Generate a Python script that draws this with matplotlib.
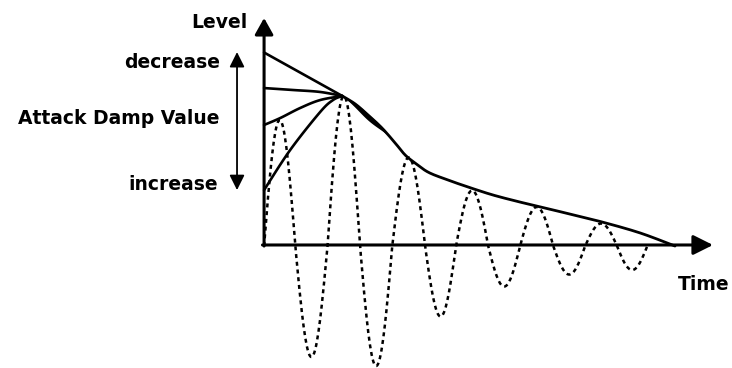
import matplotlib
matplotlib.use('Agg')
import matplotlib.pyplot as plt
import numpy as np

# oscillation: zero crossings (time in half periods) and the peak of each lobe
zero_t = [0, 0.97, 1.97, 2.98, 3.98, 5.0, 5.96, 6.96, 7.95, 8.98, 9.97, 10.96, 11.9]
lobe_peak = [0.84, -0.74, 1.0, -0.80, 0.59, -0.47, 0.37, -0.27, 0.26, -0.19, 0.15, -0.16]

# decay envelope after the attack peak
decay_t = [2.43, 2.83, 3.23, 3.66, 4.07, 4.38, 4.69, 5.09, 5.62, 6.34, 7.11,
           7.95, 8.73, 9.50, 10.50, 11.68, 12.76]
decay_lv = [1.0, 0.947, 0.873, 0.787, 0.687, 0.607, 0.553, 0.493, 0.447, 0.393, 0.34,
            0.293, 0.253, 0.213, 0.16, 0.087, 0.0]

# attack curves for different Attack Damp Values, all ending at the peak
attack_t = [
    [0, 2.43],
    [0, 0.90, 1.74, 2.43],
    [0, 0.50, 1.12, 1.74, 2.43],
    [0, 0.81, 1.74, 2.14, 2.43],
]
attack_lv = [
    [1.29, 1.0],
    [1.053, 1.04, 1.027, 1.0],
    [0.807, 0.853, 0.92, 0.973, 1.0],
    [0.373, 0.64, 0.893, 0.973, 1.0],
]


def smooth(xs, ys, n=16):
    # Catmull-Rom curve through the given points
    p = np.column_stack([xs, ys]).astype(float)
    p = np.vstack([p[0], p, p[-1]])
    u = np.linspace(0, 1, n, endpoint=False)[:, None]
    out = []
    for i in range(1, len(p) - 2):
        p0, p1, p2, p3 = p[i - 1], p[i], p[i + 1], p[i + 2]
        out.append(0.5 * (2 * p1 + (p2 - p0) * u
                          + (2 * p0 - 5 * p1 + 4 * p2 - p3) * u ** 2
                          + (3 * p1 - p0 - 3 * p2 + p3) * u ** 3))
    out.append(p[-2][None])
    c = np.vstack(out)
    return c[:, 0], c[:, 1]


fig = plt.figure(figsize=(7.32, 3.68), dpi=100)
ax = fig.add_axes([0, 0, 1, 1])
ax.set_xlim(-8.2, 14.53)
ax.set_ylim(-0.813, 1.64)
ax.axis('off')

# dashed waveform, one half-sine lobe per pair of zero crossings
s = np.linspace(0, 1, 40)
wave_t, wave_y = [], []
for i, a in enumerate(lobe_peak):
    wave_t.extend(zero_t[i] + (zero_t[i + 1] - zero_t[i]) * s)
    wave_y.extend(a * np.sin(np.pi * s))
ax.plot(wave_t, wave_y, color='k', lw=1.8, linestyle=(0, (1.6, 1.5)))

for tt, lv in zip(attack_t, attack_lv):
    ax.plot(*smooth(tt, lv), color='k', lw=1.9, solid_capstyle='round')
dt, dl = smooth(decay_t, decay_lv)
ax.plot(dt, dl, color='k', lw=2.0, solid_capstyle='round')
# the attack curves run together just after the peak, thickening the line
merge = (dt > 2.5) & (dt < 3.9)
w = np.sin(np.pi * (dt[merge] - 2.5) / 1.4)
ax.fill_between(dt[merge], dl[merge] + 0.008 * w, dl[merge] - 0.035 * w,
                color='k', lw=0)

# axes with arrow heads
ax.annotate('', xy=(0, 1.52), xytext=(0, 0),
            arrowprops=dict(arrowstyle='-|>,head_length=0.5,head_width=0.28',
                            lw=2.2, color='k', mutation_scale=20, shrinkA=0, shrinkB=0))
ax.annotate('', xy=(13.94, 0.007), xytext=(-0.05, 0.007),
            arrowprops=dict(arrowstyle='-|>,head_length=0.6,head_width=0.3',
                            lw=2.2, color='k', mutation_scale=20, shrinkA=0, shrinkB=0))

# attack damp value range
ax.annotate('', xy=(-0.84, 1.293), xytext=(-0.84, 0.373),
            arrowprops=dict(arrowstyle='<|-|>,head_length=0.5,head_width=0.25',
                            lw=1.3, color='k', mutation_scale=18, shrinkA=0, shrinkB=0))

font = dict(family='DejaVu Sans', weight='bold', fontsize=13.5, color='k')
ax.text(-0.53, 1.453, 'Level', ha='right', va='baseline', **font)
ax.text(-1.37, 1.187, 'decrease', ha='right', va='baseline', **font)
ax.text(-1.37, 0.813, 'Attack Damp Value', ha='right', va='baseline', **font)
ax.text(-1.43, 0.373, 'increase', ha='right', va='baseline', **font)
ax.text(12.86, -0.293, 'Time', ha='left', va='baseline', **font)

fig.savefig('out.png', dpi=100, facecolor='white')
